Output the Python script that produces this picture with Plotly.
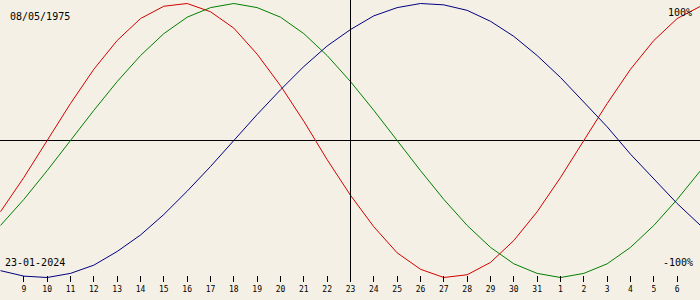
import plotly.graph_objects as go

# Dates shown (Jan 8 .. Feb 7, 2024)
dates = ["2024-01-%02d" % d for d in range(8, 32)] + ["2024-02-%02d" % d for d in range(1, 8)]

# Biorhythm values (fraction of 100%)
physical = [-0.52, -0.27, 0.00, 0.27, 0.52, 0.73, 0.89, 0.98, 1.00, 0.94, 0.82, 0.63, 0.40, 0.14, -0.14,
            -0.40, -0.63, -0.82, -0.94, -1.00, -0.98, -0.89, -0.73, -0.52, -0.27, 0.00, 0.27, 0.52, 0.73, 0.89, 0.98]
emotional = [-0.62, -0.43, -0.22, 0.00, 0.22, 0.43, 0.62, 0.78, 0.90, 0.97, 1.00, 0.97, 0.90, 0.78, 0.62,
             0.43, 0.22, 0.00, -0.22, -0.43, -0.62, -0.78, -0.90, -0.97, -1.00, -0.97, -0.90, -0.78, -0.62, -0.43, -0.22]
intellectual = [-0.95, -0.99, -1.00, -0.97, -0.91, -0.81, -0.69, -0.54, -0.37, -0.19, 0.00, 0.19, 0.37, 0.54, 0.69,
                0.81, 0.91, 0.97, 1.00, 0.99, 0.95, 0.87, 0.76, 0.62, 0.46, 0.28, 0.10, -0.10, -0.28, -0.46, -0.62]

tick_dates = dates[1:-1]
tick_labels = [str(int(d[-2:])) for d in tick_dates]

birth_text = "08/05/1975"
target_text = "23-01-2024"
target_date = "2024-01-23"

# x range shifted by half a pixel so the vertical marker lands on a pixel column
x_range = ["2024-01-07 23:29:09", "2024-02-06 23:29:09"]

bg = "#F4F0E5"
fig = go.Figure()
for vals, col in [(physical, "#D40000"), (emotional, "#008000"), (intellectual, "#000080")]:
    fig.add_trace(go.Scatter(x=dates, y=vals, mode="lines", line=dict(color=col, width=1),
                             hoverinfo="skip", showlegend=False))

fig.update_layout(
    width=700, height=300, margin=dict(l=0, r=0, t=0, b=0),
    paper_bgcolor=bg, plot_bgcolor=bg,
    xaxis=dict(range=x_range, showgrid=False, zeroline=False, showline=False,
               anchor="free", position=(300 - 275) / 300,
               tickmode="array", tickvals=tick_dates, ticktext=tick_labels,
               ticks="outside", ticklen=6, tickwidth=1, tickcolor="black",
               tickfont=dict(family="DejaVu Sans Mono", size=8, color="black")),
    yaxis=dict(range=[-159.5 / 137, 140.5 / 137], showgrid=False, showticklabels=False,
               zeroline=True, zerolinecolor="black", zerolinewidth=1, showline=False),
    shapes=[dict(type="line", xref="x", yref="paper", x0=target_date, x1=target_date,
                 y0=(300 - 282) / 300, y1=1, line=dict(color="black", width=1))],
    annotations=[
        dict(text=birth_text, xref="paper", yref="paper", x=8 / 700, y=1 - 16 / 300,
             xanchor="left", yanchor="middle", showarrow=False,
             font=dict(family="DejaVu Sans Mono", size=10, color="black")),
        dict(text=target_text, xref="paper", yref="paper", x=3 / 700, y=1 - 262 / 300,
             xanchor="left", yanchor="middle", showarrow=False,
             font=dict(family="DejaVu Sans Mono", size=10, color="black")),
        dict(text="100%", xref="paper", yref="paper", x=694 / 700, y=1 - 12.5 / 300,
             xanchor="right", yanchor="middle", showarrow=False,
             font=dict(family="DejaVu Sans Mono", size=10, color="black")),
        dict(text="-100%", xref="paper", yref="paper", x=695 / 700, y=1 - 262 / 300,
             xanchor="right", yanchor="middle", showarrow=False,
             font=dict(family="DejaVu Sans Mono", size=10, color="black")),
    ],
)

fig.write_html("out.html")
